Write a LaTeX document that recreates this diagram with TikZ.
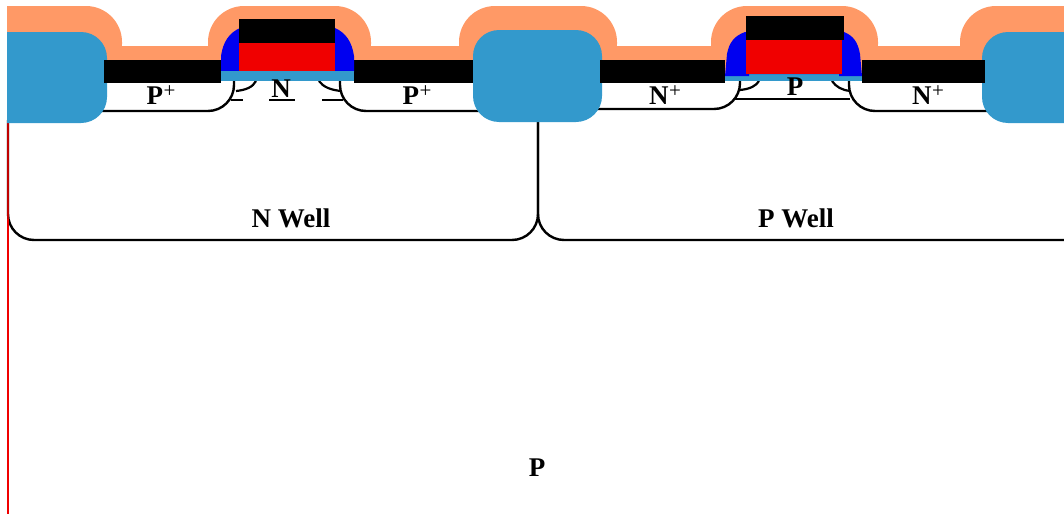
\documentclass[tikz,border=0pt]{standalone}
\usepackage{fontspec}
\setmainfont{Liberation Serif}
\usepackage{xcolor}
\definecolor{nitride}{HTML}{FF9966}
\definecolor{sti}{HTML}{3399CC}
\definecolor{spacerblue}{HTML}{0000F0}
\definecolor{polyred}{HTML}{F00000}
\definecolor{edgered}{HTML}{C00000}
\newcommand{\plusmark}{\kern0.5pt\raisebox{0.24em}{\fontsize{21}{21}\selectfont\mdseries +}}
\tikzset{%
	label/.style    = {font=\fontsize{27}{29}\selectfont\bfseries, inner sep=0pt},
	junction/.style = {draw=black, line width=2.4pt},
	region/.style   = {junction, rounded corners=26},
	ldd/.style      = {junction, line width=2.2pt},
	silicide/.style = {fill=black},
	nitbump/.style  = {fill=nitride, rounded corners=36},
	stibox/.style   = {fill=sti, rounded corners=26},
}
\begin{document}
\begin{tikzpicture}[x=1pt,y=-1pt]
	\useasboundingbox (0,0) rectangle (1064,514);
	\clip (0,0) rectangle (1064,514);

	% wells and junctions
	\draw[region] (8,120) -- (8,240) -- (538,240) -- (538,120);
	\draw[region] (538,120) -- (538,240) -- (1090,240) -- (1090,120);
	\draw[draw=edgered, line width=2.8pt] (8,120) -- (8,219);
	\draw[draw=polyred, line width=2.8pt] (8,219) -- (8,514);

	\draw[region] (95,111) -- (234,111) -- (234,80);
	\draw[region] (340,80) -- (340,111) -- (480,111);
	\draw[region] (590,109) -- (740,109) -- (740,80);
	\draw[region] (849,80) -- (849,111) -- (995,111);

	\draw[ldd] (236,91) .. controls (246,90) and (253,87) .. (256,81);
	\draw[ldd] (319,81) .. controls (323,87) and (331,90) .. (341,91);
	\draw[ldd] (740,90) .. controls (750,89) and (756,86) .. (759,81);
	\draw[ldd] (832,81) .. controls (836,87) and (842,90) .. (850,91);

	\draw[junction] (231,100) -- (243,100);
	\draw[junction] (269,100) -- (295,100);
	\draw[junction] (322,100) -- (343,100);
	\draw[junction] (735,99) -- (850,99);

	% nitride layer
	\begin{scope}
		\clip (7,0) rectangle (1064,514);
		\fill[nitride] (7,46) rectangle (1064,70);
		\fill[nitbump] (-60,6) rectangle (122,80);
		\fill[nitbump] (208,6) rectangle (371,80);
		\fill[nitbump] (459,6) rectangle (617,80);
		\fill[nitbump] (711,6) rectangle (878,80);
		\fill[nitbump] (960,6) rectangle (1130,80);
	\end{scope}

	% isolation
	\begin{scope}
		\clip (7,0) rectangle (1064,514);
		\fill[stibox] (-30,32) rectangle (107,123);
		\fill[stibox] (473,30) rectangle (602,122);
		\fill[stibox] (982,32) rectangle (1110,123);
	\end{scope}

	% silicide
	\fill[silicide] (104,60) rectangle (221,83);
	\fill[silicide] (354,60) rectangle (473,83);
	\fill[silicide] (600,60) rectangle (725,83);
	\fill[silicide] (862,60) rectangle (985,83);

	% left gate
	\fill[spacerblue] (221,72) -- (221,56) .. controls (223,42) and (229,33) .. (240,28) -- (335,28) .. controls (346,33) and (352,42) .. (354,56) -- (354,72) -- cycle;
	\fill[sti] (221,71) rectangle (354,81);
	\fill[polyred] (239,43) rectangle (335,71);
	\fill[black] (239,19) rectangle (335,43);

	% right gate
	\fill[sti] (725,74) rectangle (862,81);
	\fill[spacerblue] (725,76) -- (727,54) .. controls (729,43) and (734,36) .. (745,32) -- (844,32) .. controls (854,36) and (858,43) .. (860,54) -- (862,76) -- (839,76) -- (839,74) -- (749,74) -- (749,76) -- cycle;
	\fill[polyred] (746,40) rectangle (842,74);
	\fill[black] (746,16) rectangle (844,40);

	\node[label] (pplusl) at (161,95) {P\plusmark};
	\node[label] (pplusr) at (417,95) {P\plusmark};
	\node[label] (nchan) at (281,89) {N};
	\node[label] (nplusl) at (665,95) {N\plusmark};
	\node[label] (nplusr) at (928,95) {N\plusmark};
	\node[label] (pchan) at (795,87) {P};
	\node[label] (nwell) at (291,218) {N Well};
	\node[label] (pwell) at (796,218) {P Well};
	\node[label] (psub) at (537,468) {P};
\end{tikzpicture}
\end{document}
